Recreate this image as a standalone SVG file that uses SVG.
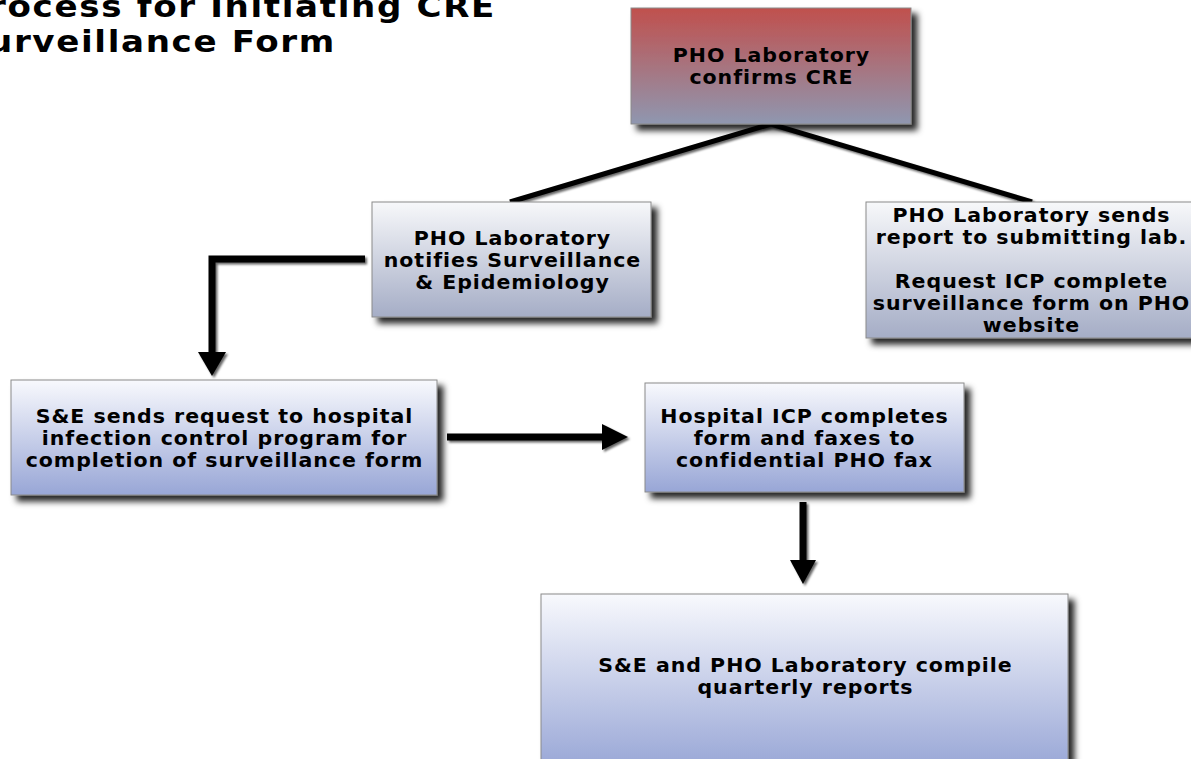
<svg xmlns="http://www.w3.org/2000/svg" width="1191" height="759" viewBox="0 0 1191 759">
  <defs>
    <linearGradient id="gRed" x1="0" y1="0" x2="0" y2="1">
      <stop offset="0" stop-color="#c0504d"/>
      <stop offset="1" stop-color="#8f97b0"/>
    </linearGradient>
    <linearGradient id="gGrey" x1="0" y1="0" x2="0" y2="1">
      <stop offset="0" stop-color="#f7f8fa"/>
      <stop offset="1" stop-color="#a5adc6"/>
    </linearGradient>
    <linearGradient id="gBlue" x1="0" y1="0" x2="0" y2="1">
      <stop offset="0" stop-color="#f8f9fd"/>
      <stop offset="1" stop-color="#98a6d6"/>
    </linearGradient>
    <filter id="boxShadow" x="-10%" y="-10%" width="130%" height="140%">
      <feDropShadow dx="6" dy="6" stdDeviation="3" flood-color="#000" flood-opacity="0.85"/>
    </filter>
    <filter id="lineShadow" x="-10%" y="-10%" width="130%" height="130%">
      <feDropShadow dx="2" dy="2" stdDeviation="1.2" flood-color="#000" flood-opacity="0.6"/>
    </filter>
  </defs>
  <style>
    .box { stroke: #8a8a8a; stroke-width: 1; filter: url(#boxShadow); }
    .lbl { font-family: "DejaVu Sans", Verdana, sans-serif; font-weight: bold; font-size: 19px; letter-spacing: 0.9px; fill: #000; text-anchor: middle; }
    .title { font-family: "DejaVu Sans", Verdana, sans-serif; font-weight: bold; font-size: 31px; letter-spacing: 1.5px; fill: #000; text-anchor: end; }
    .conn { fill: none; stroke: #000; stroke-linejoin: miter; }
    .head { fill: #000; }
  </style>
  <rect width="1191" height="759" fill="#fff"/>

  <g id="title">
    <g transform="translate(496 0) scale(1.1 1)">
      <text class="title" x="0" y="17">Process for Initiating CRE</text>
    </g>
    <g transform="translate(336 0) scale(1.1 1)">
      <text class="title" x="0" y="52">Surveillance Form</text>
    </g>
  </g>

  <g id="connectors" filter="url(#lineShadow)">
    <polyline class="conn" stroke-width="5" points="510,202 771,124 1032,202"/>
    <polyline class="conn" stroke-width="7" points="365,259 212,259 212,354"/>
    <polygon class="head" points="198,352 226,352 212,376"/>
    <line class="conn" stroke-width="7" x1="447" y1="437" x2="604" y2="437"/>
    <polygon class="head" points="602,424 602,450 628,437"/>
    <line class="conn" stroke-width="7" x1="803" y1="502" x2="803" y2="562"/>
    <polygon class="head" points="790,560 816,560 803,584"/>
  </g>

  <g id="node-confirm">
    <rect class="box" x="631" y="8" width="280" height="116" fill="url(#gRed)"/>
    <g transform="translate(771.5 0) scale(1.08 1)">
      <text class="lbl" x="0" y="62">PHO Laboratory</text>
      <text class="lbl" x="0" y="84">confirms CRE</text>
    </g>
  </g>

  <g id="node-notify">
    <rect class="box" x="372" y="202" width="279" height="115" fill="url(#gGrey)"/>
    <g transform="translate(512.5 0) scale(1.08 1)">
      <text class="lbl" x="0" y="245">PHO Laboratory</text>
      <text class="lbl" x="0" y="267">notifies Surveillance</text>
      <text class="lbl" x="0" y="289">&amp; Epidemiology</text>
    </g>
  </g>

  <g id="node-report">
    <rect class="box" x="866" y="202" width="340" height="136" fill="url(#gGrey)"/>
    <g transform="translate(1031.5 0) scale(1.08 1)">
      <text class="lbl" x="0" y="222">PHO Laboratory sends</text>
      <text class="lbl" x="0" y="244">report to submitting lab.</text>
      <text class="lbl" x="0" y="288">Request ICP complete</text>
      <text class="lbl" x="0" y="310">surveillance form on PHO</text>
      <text class="lbl" x="0" y="332">website</text>
    </g>
  </g>

  <g id="node-request">
    <rect class="box" x="11" y="380" width="426" height="115" fill="url(#gBlue)"/>
    <g transform="translate(224.5 0) scale(1.08 1)">
      <text class="lbl" x="0" y="423">S&amp;E sends request to hospital</text>
      <text class="lbl" x="0" y="445">infection control program for</text>
      <text class="lbl" x="0" y="467">completion of surveillance form</text>
    </g>
  </g>

  <g id="node-icp">
    <rect class="box" x="645" y="383" width="319" height="109" fill="url(#gBlue)"/>
    <g transform="translate(804.5 0) scale(1.08 1)">
      <text class="lbl" x="0" y="423">Hospital ICP completes</text>
      <text class="lbl" x="0" y="445">form and faxes to</text>
      <text class="lbl" x="0" y="467">confidential PHO fax</text>
    </g>
  </g>

  <g id="node-quarterly">
    <rect class="box" x="541" y="594" width="527" height="175" fill="url(#gBlue)"/>
    <g transform="translate(805.5 0) scale(1.08 1)">
      <text class="lbl" x="0" y="672">S&amp;E and PHO Laboratory compile</text>
      <text class="lbl" x="0" y="694">quarterly reports</text>
    </g>
  </g>
</svg>
